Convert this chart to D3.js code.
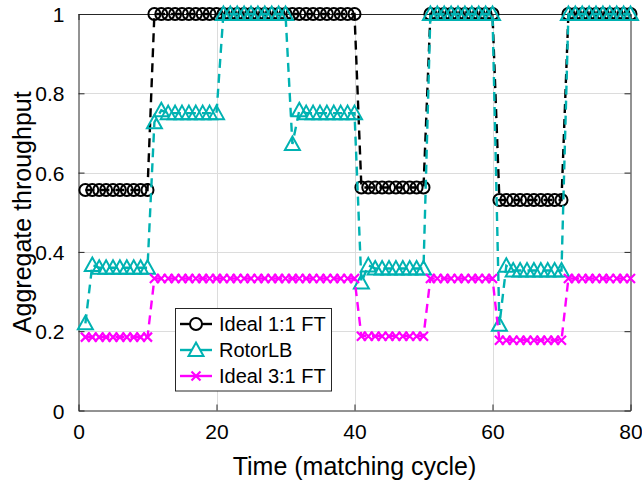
<!DOCTYPE html>
<html>
<head>
<meta charset="utf-8">
<script src="https://cdn.jsdelivr.net/npm/d3@7"></script>
<style>
  html, body { margin: 0; padding: 0; background: #fff; }
  svg { display: block; font-family: "Liberation Sans", Arial, Helvetica, sans-serif; }
</style>
</head>
<body>
<svg id="chart" width="642" height="483"></svg>
<script>
// ---- data ----
const cycles = [1,2,3,4,5,6,7,8,9,10,11,12,13,14,15,16,17,18,19,20,
  21,22,23,24,25,26,27,28,29,30,31,32,33,34,35,36,37,38,39,40,
  41,42,43,44,45,46,47,48,49,50,51,52,53,54,55,56,57,58,59,60,
  61,62,63,64,65,66,67,68,69,70,71,72,73,74,75,76,77,78,79,80];

const ideal11 = [
  0.556,0.556,0.556,0.556,0.556,0.556,0.556,0.556,0.556,0.556,
  1,1,1,1,1,1,1,1,1,1,
  1,1,1,1,1,1,1,1,1,1,
  1,1,1,1,1,1,1,1,1,1,
  0.5625,0.5625,0.5625,0.5625,0.5625,0.5625,0.5625,0.5625,0.5625,0.5625,
  1,1,1,1,1,1,1,1,1,1,
  0.531,0.531,0.531,0.531,0.531,0.531,0.531,0.531,0.531,0.531,
  1,1,1,1,1,1,1,1,1,1];

const rotorLB = [
  0.22,0.367,0.36,0.36,0.36,0.36,0.36,0.36,0.36,0.36,
  0.727,0.757,0.75,0.75,0.75,0.75,0.75,0.75,0.75,0.75,
  1,1,1,1,1,1,1,1,1,1,
  0.672,0.757,0.75,0.75,0.75,0.75,0.75,0.75,0.75,0.75,
  0.323,0.366,0.358,0.358,0.358,0.358,0.358,0.358,0.358,0.358,
  1,1,1,1,1,1,1,1,1,1,
  0.216,0.365,0.353,0.353,0.353,0.353,0.353,0.353,0.353,0.353,
  1,1,1,1,1,1,1,1,1,1];

const ideal31 = [
  0.185,0.185,0.185,0.185,0.185,0.185,0.185,0.185,0.185,0.185,
  0.333,0.333,0.333,0.333,0.333,0.333,0.333,0.333,0.333,0.333,
  0.333,0.333,0.333,0.333,0.333,0.333,0.333,0.333,0.333,0.333,
  0.333,0.333,0.333,0.333,0.333,0.333,0.333,0.333,0.333,0.333,
  0.1875,0.1875,0.1875,0.1875,0.1875,0.1875,0.1875,0.1875,0.1875,0.1875,
  0.333,0.333,0.333,0.333,0.333,0.333,0.333,0.333,0.333,0.333,
  0.177,0.177,0.177,0.177,0.177,0.177,0.177,0.177,0.177,0.177,
  0.333,0.333,0.333,0.333,0.333,0.333,0.333,0.333,0.333,0.333];

const seriesNames = ["Ideal 1:1 FT", "RotorLB", "Ideal 3:1 FT"];
const xTicks = [0, 20, 40, 60, 80];
const yTicks = [0, 0.2, 0.4, 0.6, 0.8, 1];
const xLabel = "Time (matching cycle)";
const yLabel = "Aggregate throughput";

// ---- layout ----
const L = 78.5, R = 630.5, T = 14, B = 410.5;
const svg = d3.select("#chart");
const x = d3.scaleLinear().domain([0, 80]).range([L, R]);
const y = d3.scaleLinear().domain([0, 1]).range([B, T]);
const axisColor = "#262626";

// grid
const grid = svg.append("g");
grid.selectAll("line.gx").data(xTicks.slice(1, -1)).join("line")
  .attr("x1", d => Math.round(x(d)) + 0.5).attr("x2", d => Math.round(x(d)) + 0.5)
  .attr("y1", T).attr("y2", B).attr("stroke", "#dcdcdc").attr("stroke-width", 1);
grid.selectAll("line.gy").data(yTicks.slice(1, -1)).join("line")
  .attr("y1", d => Math.round(y(d)) + 0.5).attr("y2", d => Math.round(y(d)) + 0.5)
  .attr("x1", L).attr("x2", R).attr("stroke", "#dcdcdc").attr("stroke-width", 1);

// axes with d3 axis generators (inner ticks)
const fmt = d => d3.format("~g")(d);
const axB = svg.append("g").attr("transform", `translate(0,${B})`)
  .call(d3.axisBottom(x).tickValues(xTicks).tickFormat(fmt).tickSizeInner(-6).tickSizeOuter(0).tickPadding(14));
const axT = svg.append("g").attr("transform", `translate(0,${T})`)
  .call(d3.axisTop(x).tickValues(xTicks).tickFormat("").tickSizeInner(-6).tickSizeOuter(0));
const axLft = svg.append("g").attr("transform", `translate(${L},0)`)
  .call(d3.axisLeft(y).tickValues(yTicks).tickFormat(fmt).tickSizeInner(-6).tickSizeOuter(0).tickPadding(14));
const axRgt = svg.append("g").attr("transform", `translate(${R},0)`)
  .call(d3.axisRight(y).tickValues(yTicks).tickFormat("").tickSizeInner(-6).tickSizeOuter(0));
[axB, axT, axLft, axRgt].forEach(g => {
  g.selectAll("path.domain").attr("stroke", axisColor).attr("stroke-width", 1);
  g.selectAll(".tick line").attr("stroke", axisColor).attr("stroke-width", 1);
  g.selectAll("text").attr("fill", "#000").style("font-size", "21px")
    .style("font-family", '"Liberation Sans", Arial, sans-serif');
});
axLft.selectAll("text").attr("dy", "0.36em");

// axis labels
svg.append("text").attr("x", (L + R) / 2).attr("y", 475).attr("text-anchor", "middle")
  .style("font-size", "25px").attr("fill", "#000").text(xLabel);
svg.append("text").attr("transform", `translate(31,${(T + B) / 2}) rotate(-90)`)
  .attr("text-anchor", "middle").style("font-size", "25px").attr("fill", "#000").text(yLabel);

// markers
const triPath = "M0,-7.5L7.5,6L-7.5,6Z";
const crossPath = "M-4.5,-4.5L4.5,4.5M-4.5,4.5L4.5,-4.5";
const series = [
  {name: seriesNames[0], vals: ideal11, color: "#000000", marker: "circle"},
  {name: seriesNames[1], vals: rotorLB, color: "#00b2b2", marker: "tri"},
  {name: seriesNames[2], vals: ideal31, color: "#ff00ff", marker: "cross"}
];

function drawMarker(g, type, color) {
  if (type === "circle") {
    g.append("circle").attr("r", 6).attr("fill", "none").attr("stroke", color).attr("stroke-width", 2);
  } else if (type === "tri") {
    g.append("path").attr("d", triPath).attr("fill", "none").attr("stroke", color).attr("stroke-width", 2);
  } else {
    g.append("path").attr("d", crossPath).attr("fill", "none").attr("stroke", color).attr("stroke-width", 2.2);
  }
}

const line = d3.line().x(d => x(d[0])).y(d => y(d[1]));
series.forEach(s => {
  const pts = cycles.map((c, i) => [c, s.vals[i]]);
  const g = svg.append("g");
  g.append("path").datum(pts).attr("d", line).attr("fill", "none")
    .attr("stroke", s.color).attr("stroke-width", 2.4).attr("stroke-dasharray", "9,6");
  g.selectAll("g.m").data(pts).join("g")
    .attr("transform", d => `translate(${x(d[0])},${y(d[1])})`)
    .each(function () { drawMarker(d3.select(this), s.marker, s.color); });
});

// legend
const lg = svg.append("g");
lg.append("rect").attr("x", 175.5).attr("y", 308.5).attr("width", 156).attr("height", 82.5)
  .attr("fill", "#fff").attr("stroke", axisColor).attr("stroke-width", 1);
series.forEach((s, i) => {
  const cy = 324 + i * 26;
  lg.append("line").attr("x1", 180).attr("x2", 212).attr("y1", cy).attr("y2", cy)
    .attr("stroke", s.color).attr("stroke-width", 2.4);
  const m = lg.append("g").attr("transform", `translate(196,${cy})`);
  if (s.marker === "circle") {
    m.append("circle").attr("r", 6).attr("fill", "#fff").attr("stroke", s.color).attr("stroke-width", 2);
  } else if (s.marker === "tri") {
    m.append("path").attr("d", triPath).attr("fill", "#fff").attr("stroke", s.color).attr("stroke-width", 2);
  } else {
    m.append("path").attr("d", crossPath).attr("stroke", s.color).attr("stroke-width", 2.2);
  }
  lg.append("text").attr("x", 219).attr("y", cy).attr("dy", "0.36em")
    .style("font-size", "20px").attr("fill", "#000").text(s.name);
});
</script>
</body>
</html>
